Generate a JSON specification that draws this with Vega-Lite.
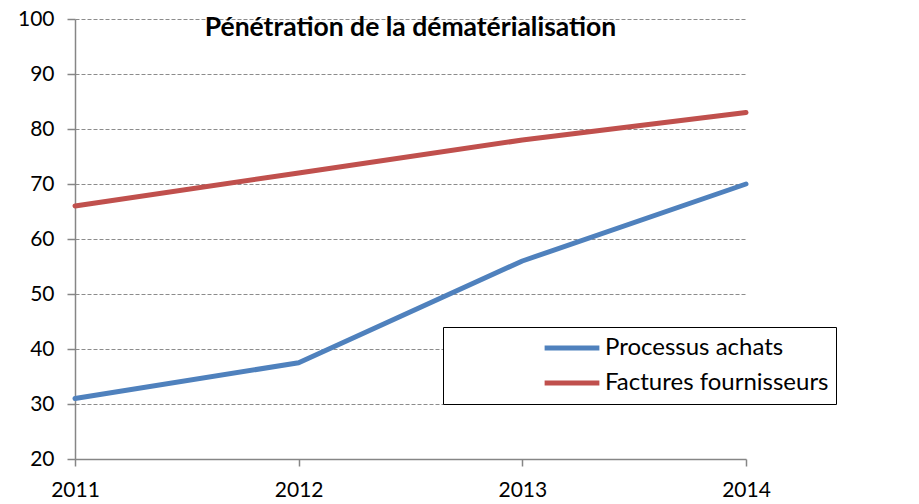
{
  "$schema": "https://vega.github.io/schema/vega-lite/v6.json",
  "autosize": {"type": "none"},
  "width": 671,
  "height": 440,
  "padding": {"left": 75, "top": 19, "right": 173, "bottom": 45},
  "background": "white",
  "config": {"view": {"stroke": null}},
  "title": {
    "text": "Pénétration de la dématérialisation",
    "font": "Lato",
    "fontSize": 26.5,
    "fontWeight": "bold",
    "color": "black",
    "anchor": "middle",
    "baseline": "alphabetic",
    "offset": 0,
    "dy": 54
  },
  "data": {
    "values": [
      {"annee": 2011, "serie": "Processus achats", "valeur": 31},
      {"annee": 2012, "serie": "Processus achats", "valeur": 37.5},
      {"annee": 2013, "serie": "Processus achats", "valeur": 56},
      {"annee": 2014, "serie": "Processus achats", "valeur": 70},
      {"annee": 2011, "serie": "Factures fournisseurs", "valeur": 66},
      {"annee": 2012, "serie": "Factures fournisseurs", "valeur": 72},
      {"annee": 2013, "serie": "Factures fournisseurs", "valeur": 78},
      {"annee": 2014, "serie": "Factures fournisseurs", "valeur": 83}
    ]
  },
  "mark": {"type": "line", "strokeWidth": 5, "strokeCap": "round", "strokeJoin": "round"},
  "encoding": {
    "x": {
      "field": "annee",
      "type": "quantitative",
      "scale": {"domain": [2011, 2014], "nice": false, "zero": false},
      "axis": {
        "title": null,
        "values": [2011, 2012, 2013, 2014],
        "format": "d",
        "grid": false,
        "domainColor": "#868686",
        "domainWidth": 1.5,
        "tickColor": "#868686",
        "tickWidth": 1.5,
        "tickSize": 7,
        "labelPadding": 13,
        "labelFont": "Lato",
        "labelFontSize": 21,
        "labelColor": "black",
        "labelFlush": false
      }
    },
    "y": {
      "field": "valeur",
      "type": "quantitative",
      "scale": {"domain": [20, 100], "nice": false, "zero": false},
      "axis": {
        "title": null,
        "values": [20, 30, 40, 50, 60, 70, 80, 90, 100],
        "grid": true,
        "gridColor": "#8c8c8c",
        "gridDash": [4, 2],
        "gridWidth": 1,
        "domainColor": "#868686",
        "domainWidth": 1.5,
        "tickColor": "#868686",
        "tickWidth": 1.5,
        "tickSize": 8,
        "labelPadding": 13,
        "labelFont": "Lato",
        "labelFontSize": 21,
        "labelColor": "black"
      }
    },
    "color": {
      "field": "serie",
      "type": "nominal",
      "scale": {
        "domain": ["Processus achats", "Factures fournisseurs"],
        "range": ["#4F81BD", "#C0504D"]
      },
      "legend": {
        "title": null,
        "orient": "none",
        "legendX": 368,
        "legendY": 308,
        "symbolType": "stroke",
        "symbolSize": 3000,
        "symbolStrokeWidth": 5,
        "symbolOffset": 92,
        "labelOffset": 3,
        "labelFont": "Lato",
        "labelFontSize": 24,
        "labelColor": "black",
        "labelLimit": 400,
        "clipHeight": 28,
        "rowPadding": 7,
        "padding": 7,
        "strokeColor": "black",
        "fillColor": "white"
      }
    }
  }
}
